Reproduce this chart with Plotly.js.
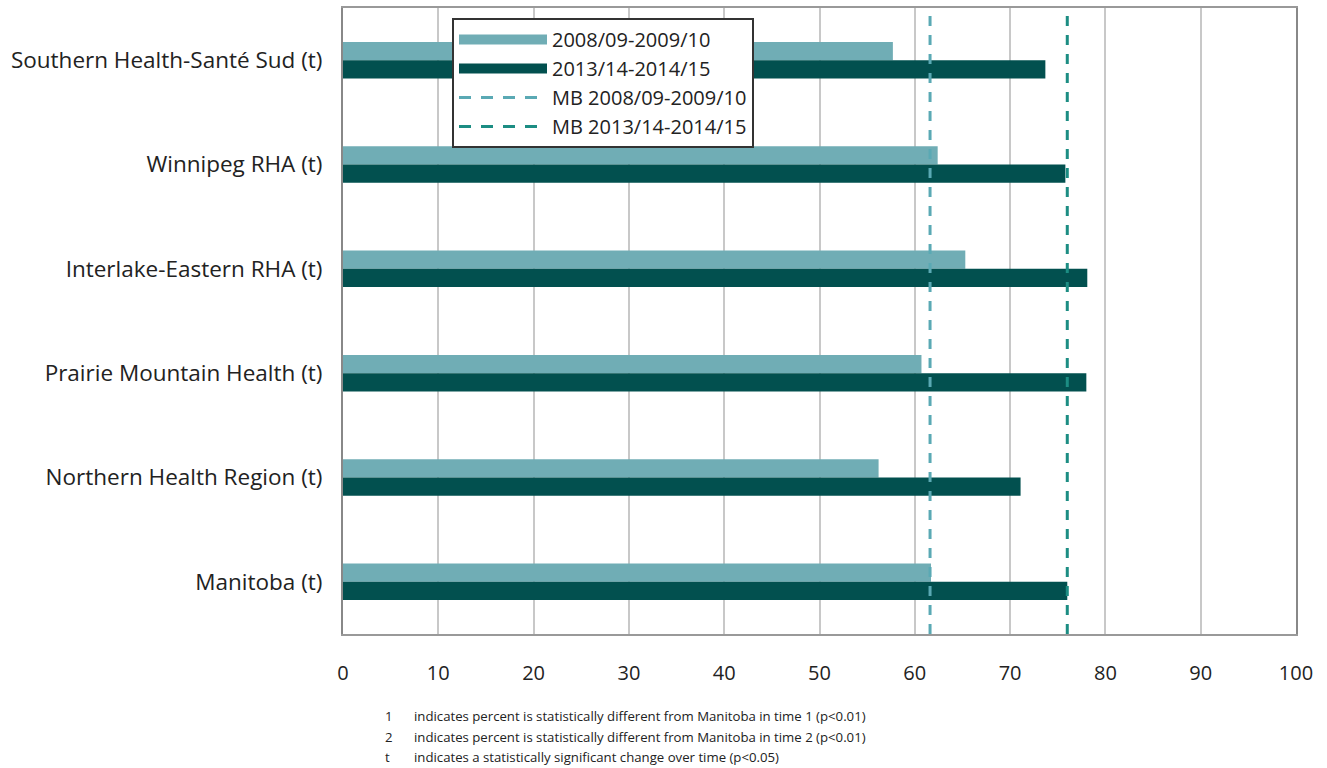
<!DOCTYPE html>
<html>
<head>
<meta charset="utf-8">
<script src="https://cdn.plot.ly/plotly-3.0.1.min.js"></script>
<style>html,body{margin:0;padding:0;background:#fff;}#chart{width:1327px;height:768px;}</style>
</head>
<body>
<div id="chart"></div>
<script>
const regions = ["Southern Health-Santé Sud (t)", "Winnipeg RHA (t)", "Interlake-Eastern RHA (t)", "Prairie Mountain Health (t)", "Northern Health Region (t)", "Manitoba (t)"];
const period1 = [57.7, 62.4, 65.3, 60.7, 56.2, 61.7];
const period2 = [73.7, 75.8, 78.1, 78.0, 71.1, 76.0];
const seriesNames = ["2008/09-2009/10", "2013/14-2014/15", "MB 2008/09-2009/10", "MB 2013/14-2014/15"];
const mbAverages = [61.6, 76.0];
const xTicks = [0, 10, 20, 30, 40, 50, 60, 70, 80, 90, 100];
const footnoteKeys = ["1", "2", "t"];
const footnotes = [
  "indicates percent is statistically different from Manitoba in time 1 (p<0.01)",
  "indicates percent is statistically different from Manitoba in time 2 (p<0.01)",
  "indicates a statistically significant change over time (p<0.05)"
];

const light = "#70adb5";
const dark = "#02504f";
const lightDash = "#5aa9b4";
const darkDash = "#1c8d83";

const traces = [
  {type: "bar", orientation: "h", y: regions, x: period1, marker: {color: light}, showlegend: false, hoverinfo: "x"},
  {type: "bar", orientation: "h", y: regions, x: period2, marker: {color: dark}, showlegend: false, hoverinfo: "x"},
  {type: "scatter", mode: "lines", x: [mbAverages[0], mbAverages[0]], y: [0, 1], yaxis: "y2", line: {color: lightDash, width: 3, dash: "10px,9px"}, showlegend: false},
  {type: "scatter", mode: "lines", x: [mbAverages[1], mbAverages[1]], y: [0, 1], yaxis: "y2", line: {color: darkDash, width: 3, dash: "10px,9px"}, showlegend: false},
  {type: "scatter", mode: "lines", x: [null], y: [null], name: seriesNames[0], line: {color: light, width: 12}},
  {type: "scatter", mode: "lines", x: [null], y: [null], name: seriesNames[1], line: {color: dark, width: 12}},
  {type: "scatter", mode: "lines", x: [null], y: [null], name: seriesNames[2], line: {color: lightDash, width: 3, dash: "12px,10px"}},
  {type: "scatter", mode: "lines", x: [null], y: [null], name: seriesNames[3], line: {color: darkDash, width: 3, dash: "12px,10px"}}
];

const annotations = [];
footnotes.forEach((t, i) => {
  annotations.push({xref: "paper", yref: "paper", x: (383 - 343) / 953, y: -(716 + i * 20.5 - 634) / 626, xanchor: "left", yanchor: "middle", text: footnoteKeys[i], showarrow: false, font: {family: "Open Sans, sans-serif", size: 13.2, color: "#222"}});
  annotations.push({xref: "paper", yref: "paper", x: (412 - 343) / 953, y: -(716 + i * 20.5 - 634) / 626, xanchor: "left", yanchor: "middle", text: t, showarrow: false, font: {family: "Open Sans, sans-serif", size: 13.2, color: "#222"}});
});

const layout = {
  width: 1327, height: 768,
  margin: {l: 343, r: 31, t: 8, b: 134},
  paper_bgcolor: "#fff", plot_bgcolor: "#fff",
  barmode: "group", bargap: 0.65, bargroupgap: 0,
  font: {family: "Open Sans, sans-serif", color: "#222"},
  xaxis: {
    range: [0, 100], tickvals: xTicks, ticktext: xTicks.map(String),
    showgrid: true, gridcolor: "#c8c8c8", gridwidth: 2,
    showline: true, linecolor: "#999", linewidth: 2, mirror: true,
    zeroline: false, ticks: "", ticklabelstandoff: 20,
    tickfont: {size: 20, color: "#222"}, fixedrange: true
  },
  yaxis: {
    autorange: "reversed", type: "category",
    showline: true, linecolor: "#888", linewidth: 2, mirror: true,
    showgrid: false, ticks: "", ticklabelstandoff: 14,
    tickfont: {size: 22.5, color: "#222"}, fixedrange: true
  },
  yaxis2: {overlaying: "y", range: [0, 1], visible: false, fixedrange: true},
  legend: {
    x: (452 - 343) / 953, y: 1 - (18 - 8) / 626, xanchor: "left", yanchor: "top",
    bgcolor: "#fff", bordercolor: "#333", borderwidth: 2,
    font: {size: 20, color: "#222"}, itemwidth: 88, tracegroupgap: 0
  },
  annotations: annotations,
  showlegend: true
};

Plotly.newPlot("chart", traces, layout, {displayModeBar: false, staticPlot: true});
</script>
</body>
</html>
